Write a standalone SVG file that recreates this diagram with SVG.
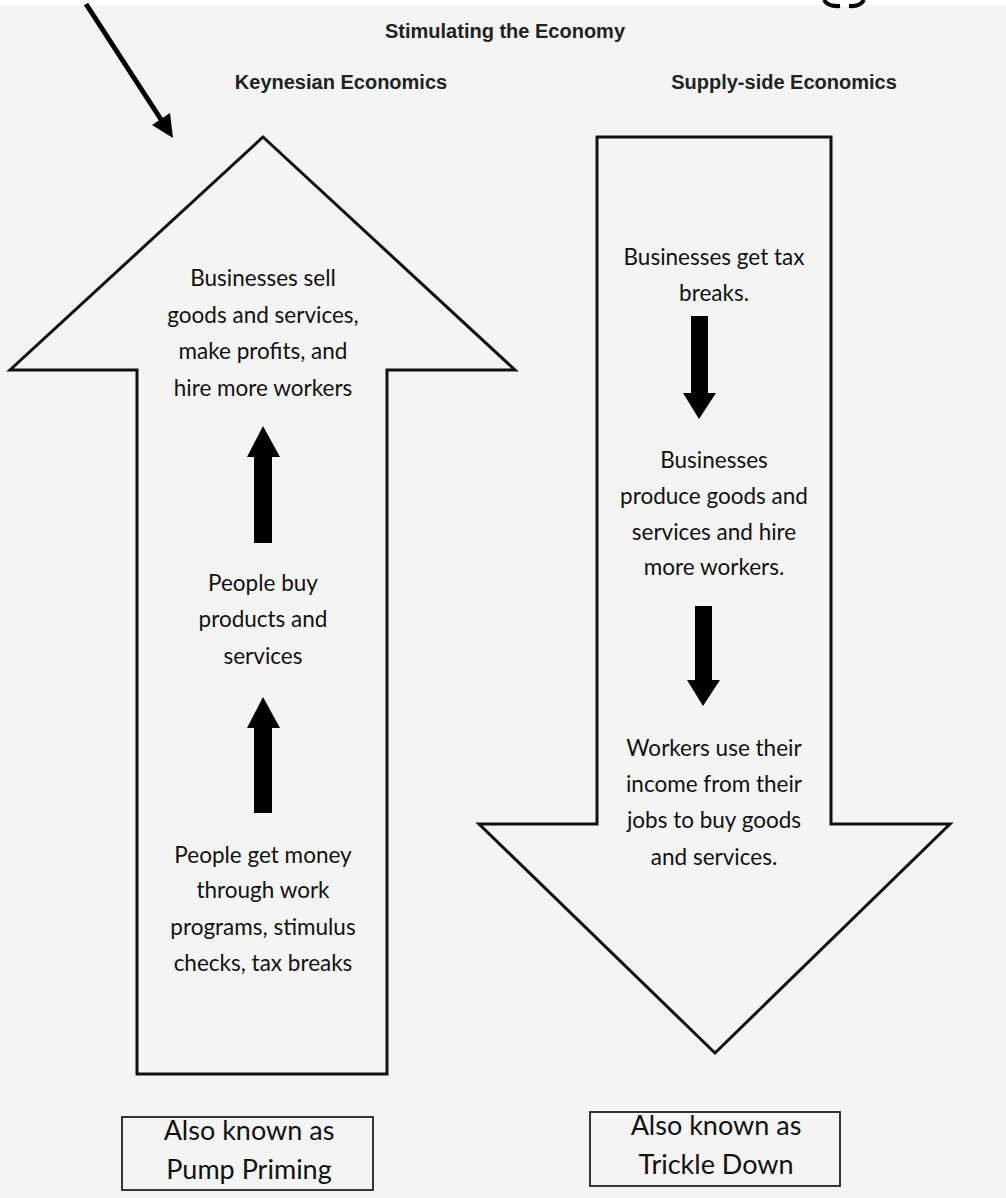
<svg xmlns="http://www.w3.org/2000/svg" width="1006" height="1198" viewBox="0 0 1006 1198">
<style>
.title{font-family:"Liberation Sans",Arial,sans-serif;font-weight:bold;font-size:20px;fill:#222;text-anchor:middle}
.body{font-family:Lato,"Open Sans",sans-serif;font-size:22.5px;fill:#111;text-anchor:middle}
.box{font-family:Lato,"Open Sans",sans-serif;font-size:27px;fill:#111;text-anchor:middle}
.big{fill:#f4f4f4;stroke:#111;stroke-width:3;stroke-linejoin:miter}
.frame{fill:#f4f4f4;stroke:#222;stroke-width:1.8}
.blk{fill:#000}
</style>
<rect x="0" y="0" width="1006" height="1198" fill="#f4f4f4"/>
<rect x="0" y="0" width="1006" height="6" fill="#ffffff"/>
<path d="M824,0 Q828,7 840,6 M864,0 Q860,7 849,6" fill="none" stroke="#000" stroke-width="4"/>

<g id="titles">
<text class="title" x="505" y="38">Stimulating the Economy</text>
<text class="title" x="341" y="89">Keynesian Economics</text>
<text class="title" x="784" y="89">Supply-side Economics</text>
</g>

<g id="pointer">
<line x1="86" y1="4" x2="162" y2="121" stroke="#000" stroke-width="5"/>
<polygon class="blk" points="173,138 152,125 170,113"/>
</g>

<g id="keynesian-arrow">
<polygon class="big" points="263,137 515,370 387,370 387,1074 137,1074 137,370 10,370"/>
<text class="body" x="263" y="286">Businesses sell</text>
<text class="body" x="263" y="323">goods and services,</text>
<text class="body" x="263" y="359">make profits, and</text>
<text class="body" x="263" y="396">hire more workers</text>
<text class="body" x="263" y="591">People buy</text>
<text class="body" x="263" y="627">products and</text>
<text class="body" x="263" y="664">services</text>
<text class="body" x="263" y="863">People get money</text>
<text class="body" x="263" y="898">through work</text>
<text class="body" x="263" y="935">programs, stimulus</text>
<text class="body" x="263" y="971">checks, tax breaks</text>
</g>

<g id="supply-arrow">
<polygon class="big" points="597,137 831,137 831,824 950,824 715,1053 479,824 597,824"/>
<text class="body" x="714" y="265">Businesses get tax</text>
<text class="body" x="714" y="301">breaks.</text>
<text class="body" x="714" y="468">Businesses</text>
<text class="body" x="714" y="504">produce goods and</text>
<text class="body" x="714" y="540">services and hire</text>
<text class="body" x="714" y="575">more workers.</text>
<text class="body" x="714" y="756">Workers use their</text>
<text class="body" x="714" y="792">income from their</text>
<text class="body" x="714" y="828">jobs to buy goods</text>
<text class="body" x="714" y="865">and services.</text>
</g>

<g id="connectors">
<polygon class="blk" points="263,426 280,457 272,457 272,543 254,543 254,457 247,457"/>
<polygon class="blk" points="263,697 280,728 272,728 272,813 254,813 254,728 247,728"/>
<polygon class="blk" points="691,316 708,316 708,393 716,393 699,419 683,393 691,393"/>
<polygon class="blk" points="695,606 712,606 712,680 720,680 703,706 687,680 695,680"/>
</g>

<g id="pump-priming">
<rect class="frame" x="122" y="1117" width="251" height="73"/>
<text class="box" x="249" y="1140">Also known as</text>
<text class="box" x="249" y="1179">Pump Priming</text>
</g>

<g id="trickle-down">
<rect class="frame" x="590" y="1112" width="250" height="74"/>
<text class="box" x="716" y="1135">Also known as</text>
<text class="box" x="716" y="1174">Trickle Down</text>
</g>
</svg>
